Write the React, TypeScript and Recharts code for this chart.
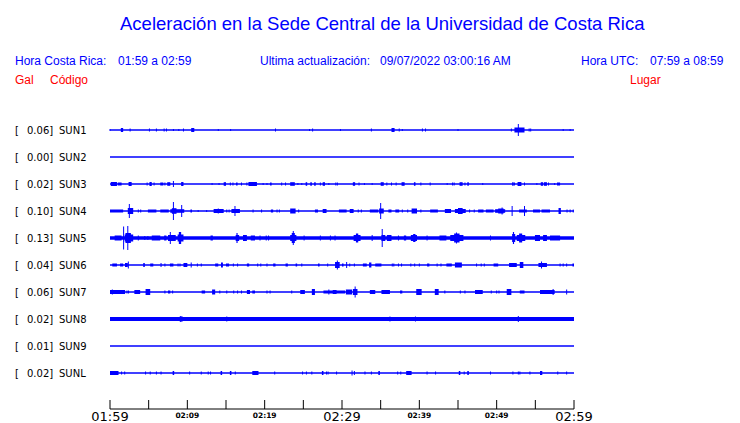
import { ComposedChart, Line, XAxis, YAxis, ReferenceArea } from 'recharts'

// station rows, top to bottom
const CODES = ['SUN1', 'SUN2', 'SUN3', 'SUN4', 'SUN5', 'SUN6', 'SUN7', 'SUN8', 'SUN9', 'SUNL']
const GAL = ['0.06', '0.00', '0.02', '0.10', '0.13', '0.04', '0.06', '0.02', '0.01', '0.02']
const PLACES = ['CIMAR', 'Ingenieria P01', 'Ingenieria P06', 'EBCI', 'Rectoria', 'Agroalimentarias', 'Archivo', 'Electrica P06', 'Electrica P01', 'LANAMME-CTT']
const BASE_WIDTH = [1.3, 1.3, 1.3, 1.3, 3.5, 1.3, 1.3, 4, 1.3, 1.3]

// time axis (minutes after 01:59)
const TICK_MINUTES = [0, 5, 10, 15, 20, 25, 30, 35, 40, 45, 50, 55, 60]
const TICK_LABELS = ['01:59', '', '02:09', '', '02:19', '', '02:29', '', '02:39', '', '02:49', '', '02:59']
const MAJOR_TICKS = ['01:59', '02:29', '02:59']

// bursts per station: [start min, end min, half amplitude]
const SUN1 = [[0, 0, 1], [1.4, 1.7, 2], [2.6, 2.6, 1.5], [5.1, 5.1, 1.5], [6.0, 6.0, 1.5], [7.0, 7.0, 1.5], [7.3, 7.3, 1.5], [8.2, 8.2, 1], [8.9, 8.9, 1], [9.5, 9.5, 1.5], [10.5, 10.9, 2], [14.0, 14.0, 1], [15.6, 15.6, 1], [21.4, 21.4, 1.5], [25.8, 25.8, 1], [26.2, 26.2, 1.5], [29.8, 29.8, 1], [33.8, 33.8, 1.5], [36.4, 36.8, 2], [37.4, 37.4, 1.5], [37.8, 37.8, 1], [40.4, 40.4, 1.5], [40.8, 40.8, 1.5], [45.0, 45.0, 1], [51.9, 51.9, 1.5], [52.3, 53.6, 2.5], [52.8, 52.8, 6], [54.2, 54.2, 1.5], [54.4, 54.4, 1.5], [58.6, 58.6, 1], [59.5, 59.5, 1]]
const SUN2: number[][] = []
const SUN3 = [[0.1, 0.9, 2], [1.0, 1.5, 1.5], [2.4, 2.8, 2], [4.8, 4.8, 1.5], [5.1, 5.4, 2], [5.7, 5.7, 1.5], [6.5, 6.9, 1.5], [7.1, 7.1, 1.5], [7.4, 7.8, 1.8], [8.2, 8.2, 3], [9.2, 9.5, 2], [13.2, 13.2, 1], [14.1, 14.1, 1], [14.7, 15.0, 1.8], [15.56, 15.56, 1.5], [15.9, 15.9, 1.5], [16.3, 16.5, 1.5], [17.0, 17.0, 1.5], [17.7, 17.7, 1.5], [17.9, 19.0, 2], [19.8, 19.8, 1], [20.3, 20.3, 1], [20.7, 20.9, 1.5], [22.2, 22.2, 1.5], [22.7, 22.7, 1.5], [23.3, 23.9, 1.8], [24.3, 24.3, 1], [24.8, 24.8, 1], [25.3, 25.5, 1.8], [25.9, 26.1, 1.8], [26.4, 26.6, 1.8], [27.2, 27.2, 1.5], [27.5, 27.8, 1.8], [28.3, 28.3, 1], [29.2, 29.2, 1.5], [29.4, 29.4, 1.5],
  [31.4, 31.7, 1.8], [32.2, 32.2, 1.5], [32.9, 32.9, 1], [33.9, 33.9, 1], [35.0, 35.4, 1.8], [35.8, 35.8, 1.5], [36.4, 36.4, 1.5], [37.0, 37.0, 1.5], [37.7, 38.1, 1.8], [39.3, 39.5, 1.8], [40.2, 40.2, 1.5], [41.4, 41.4, 1.5], [43.6, 43.6, 1], [44.3, 44.3, 1.5], [44.5, 44.5, 1.5], [45.2, 45.6, 1.8], [45.9, 45.9, 1.5], [46.2, 46.4, 1.8], [48.2, 48.2, 1], [52.0, 52.2, 1.8], [52.3, 52.3, 1.5], [52.7, 53.2, 2], [53.6, 53.6, 1.5], [55.2, 55.2, 1], [55.7, 56.0, 1.8], [56.1, 56.5, 1.8], [56.7, 56.7, 1.5], [57.5, 57.5, 1], [57.8, 58.2, 1.5]]
const SUN4 = [[0, 1.7, 1.5], [2.3, 3.0, 3], [2.5, 2.5, 7], [3.66, 3.66, 1.5], [3.97, 3.97, 1.5], [4.9, 6.0, 1.5], [6.5, 7.6, 1.5], [7.8, 9.6, 1.8], [8.0, 8.6, 2.8], [8.2, 8.2, 9], [9.27, 9.27, 6], [10.4, 10.6, 1.5], [11.4, 11.4, 1], [12.5, 12.5, 1], [13.4, 14.7, 2], [14.0, 14.0, 2.5], [15.1, 15.1, 1.5], [15.4, 15.4, 1.5], [15.7, 16.8, 2], [16.16, 16.16, 5], [18.5, 18.5, 1.5], [19.6, 19.6, 1.5], [20.8, 21.1, 1.5], [21.6, 21.6, 1.5], [21.9, 21.9, 1.5], [23.3, 24.0, 2.5], [24.4, 24.4, 1.5], [26.5, 26.9, 1.5], [27.5, 28.0, 2], [29.6, 30.6, 1.5],
  [31.0, 31.5, 2], [32.1, 32.1, 1.5], [32.5, 32.5, 1.5], [33.6, 34.7, 1.5], [34.8, 35.4, 2.5], [35.0, 35.0, 8], [36.0, 36.4, 1.5], [36.9, 37.4, 1.5], [37.8, 37.8, 1.5], [38.5, 38.5, 1.5], [39.0, 39.7, 2.5], [40.2, 40.2, 1.5], [41.4, 42.4, 1.5], [43.3, 44.1, 2], [44.6, 46.0, 2], [45.0, 45.6, 3], [46.5, 46.5, 1.5], [47.1, 47.1, 1.5], [47.6, 48.3, 1.5], [48.6, 49.6, 1.5], [49.8, 51.1, 1.8], [50.2, 50.9, 2.5], [50.7, 50.7, 3.5], [52.0, 52.0, 5], [52.9, 53.9, 1.5], [53.6, 53.6, 5], [54.7, 55.6, 1.5], [55.8, 56.9, 1.5], [58.0, 58.3, 3], [59.1, 59.1, 1.5], [59.5, 59.5, 1.5], [59.9, 59.9, 1.5]]
const SUN5 = [[0.6, 1.5, 2.5], [1.76, 1.76, 11.5], [1.9, 3.0, 3.5], [2.0, 2.7, 5], [2.3, 2.3, 12], [3.66, 3.66, 2.5], [4.5, 4.5, 2], [4.9, 4.9, 2], [5.4, 6.5, 2.5], [7.0, 7.3, 2.5], [7.5, 8.5, 3], [7.8, 7.8, 6], [8.75, 9.5, 3.5], [8.9, 9.2, 6], [13.0, 13.3, 2.5], [16.25, 16.7, 3], [16.35, 16.5, 5], [17.2, 17.7, 3], [18.2, 18.75, 2.5], [19.4, 19.4, 2.5], [20.2, 20.2, 2.5], [20.5, 20.5, 2.5], [23.3, 24.1, 3], [23.5, 23.9, 5], [23.7, 23.7, 7], [25.1, 25.1, 2.5], [27.2, 27.2, 2.5], [28.5, 28.5, 2.5], [29.1, 29.1, 2.5],
  [31.5, 32.4, 3], [31.8, 32.1, 4.5], [33.9, 33.9, 3], [35.1, 35.6, 3], [35.2, 35.2, 9], [35.8, 36.4, 3], [37.3, 37.3, 2.5], [38.0, 38.3, 2.5], [38.9, 39.7, 3], [39.2, 39.5, 4], [41.0, 41.0, 2.5], [42.6, 43.5, 2.5], [44.0, 45.7, 3], [44.5, 45.2, 4.5], [44.8, 44.8, 5.5], [49.2, 49.2, 2.5], [52.0, 52.4, 4], [52.1, 52.25, 6], [52.6, 53.7, 3], [52.9, 53.3, 4.5], [54.95, 55.6, 3], [56.0, 56.5, 3], [56.9, 58.2, 2.5]]
const SUN6 = [[0.3, 0.9, 1.5], [1.3, 1.7, 1.5], [1.94, 2.3, 2], [2.37, 2.37, 3.5], [4.3, 4.5, 2], [5.2, 5.6, 1.5], [6.6, 6.6, 2], [7.1, 7.1, 1.5], [7.75, 8.2, 1.5], [8.8, 8.8, 1.5], [9.05, 9.05, 1.5], [9.5, 10.0, 2], [10.5, 10.5, 2.5], [11.3, 11.3, 1.5], [11.8, 11.8, 1.5], [13.6, 14.0, 1.5], [14.35, 14.6, 2.5], [15.0, 15.4, 1.5], [15.95, 15.95, 1.5], [16.5, 16.5, 1.5], [17.7, 18.0, 1.5], [19.1, 19.1, 1.5], [19.5, 19.5, 1.5], [20.3, 20.3, 1.5], [21.1, 21.4, 1.5], [22.7, 23.0, 1.5], [24.0, 24.2, 1.5], [24.8, 24.8, 1.5], [26.9, 27.1, 1.5], [28.15, 28.15, 1.5], [29.1, 29.7, 3], [29.4, 29.4, 4.5], [30.0, 30.2, 1.5],
  [30.6, 30.6, 3], [31.0, 31.0, 1.5], [31.6, 31.6, 1.5], [32.7, 33.2, 1.5], [33.5, 33.8, 2.5], [34.3, 35.1, 1.5], [36.5, 36.5, 1.5], [36.7, 36.7, 1.5], [37.3, 37.3, 1.5], [37.7, 37.7, 1.5], [38.9, 38.9, 1.5], [39.4, 39.4, 1.5], [40.0, 40.0, 1.5], [41.0, 41.3, 1.5], [42.3, 42.3, 1.5], [42.8, 42.8, 1.5], [43.5, 44.2, 1.5], [44.6, 45.5, 2.5], [47.4, 47.4, 1.5], [48.0, 48.0, 1.5], [48.4, 48.4, 1.5], [49.6, 50.2, 1.5], [51.6, 52.6, 2], [52.99, 53.45, 3], [55.4, 56.5, 2], [55.8, 55.8, 3.5], [58.2, 58.2, 1.5], [58.6, 58.6, 1.5], [59.05, 59.05, 1.5], [59.8, 60, 1.5]]
const SUN7 = [[0, 1.95, 2], [0.3, 0.3, 2.5], [2.2, 2.2, 1.5], [2.4, 2.4, 1.5], [3.15, 3.9, 2], [4.6, 5.2, 3], [7.1, 7.1, 1.5], [7.5, 7.8, 1.5], [8.1, 8.1, 1.5], [11.85, 12.3, 1.5], [13.2, 13.6, 2.5], [14.2, 14.2, 1.5], [15.1, 15.1, 1.5], [16.0, 16.0, 1.5], [16.5, 16.5, 1.5], [17.0, 17.0, 1.5], [17.7, 18.1, 2], [18.4, 18.75, 1.5], [20.3, 20.3, 1.5], [20.7, 20.7, 1.5], [23.5, 23.5, 1.5], [24.6, 25.2, 2], [26.1, 26.5, 3], [27.6, 30.4, 1.5], [28.3, 28.3, 2.5], [28.8, 29.3, 2],
  [30.5, 31.3, 2.5], [31.7, 31.7, 5.5], [31.4, 32.0, 3], [33.6, 34.3, 2], [35.1, 36.2, 2], [37.5, 37.8, 1.5], [39.6, 40.3, 3], [42.0, 42.5, 3], [43.3, 43.3, 1.5], [45.3, 45.3, 1.5], [45.9, 45.9, 1.5], [47.2, 48.2, 2], [49.3, 49.3, 1.5], [50.0, 50.0, 1.5], [50.3, 50.3, 1.5], [51.3, 51.9, 3], [52.99, 53.6, 1.5], [55.6, 57.5, 2], [57.3, 57.3, 3], [59.05, 59.05, 2.5]]
const SUN8 = [[9.0, 9.4, 2.5], [9.15, 9.15, 3], [15.1, 15.1, 2.5], [36.2, 36.2, 2.5], [39.5, 39.5, 2.5], [52.8, 52.8, 3]]
const SUN9: number[][] = []
const SUNL = [[0, 1.1, 2], [1.5, 1.5, 1.5], [1.9, 1.9, 1.5], [4.6, 4.6, 1.5], [5.2, 5.2, 1.5], [6.0, 6.0, 1.5], [6.6, 6.6, 1.5], [8.1, 8.3, 2], [10.3, 10.3, 1.5], [11.8, 11.8, 1.5], [12.7, 12.7, 1.5], [13.0, 13.0, 1.5], [14.3, 14.5, 2], [15.5, 15.7, 2], [16.2, 16.2, 1.5], [18.4, 19.2, 2], [21.3, 21.3, 1.5], [24.9, 24.9, 1.5], [25.4, 25.4, 1.5], [26.1, 26.1, 1.5], [27.4, 27.6, 2], [28.0, 28.0, 1.5], [28.2, 28.2, 1.5], [29.3, 29.3, 1.5],
  [31.3, 31.3, 2.5], [31.6, 31.6, 2], [32.97, 32.97, 1.5], [33.8, 33.8, 1.5], [34.7, 34.9, 2], [37.2, 37.2, 1.5], [37.6, 37.6, 1.5], [38.3, 39.0, 2], [41.0, 41.0, 1.5], [42.1, 42.1, 1.5], [45.1, 45.3, 2], [45.8, 45.8, 1.5], [46.2, 46.4, 2], [49.2, 49.2, 1.5], [52.1, 52.1, 1.5], [52.8, 52.8, 1.5], [53.0, 53.0, 1.5], [54.3, 54.3, 1.5], [55.6, 55.9, 2], [57.9, 57.9, 1.5], [59.05, 59.05, 1.5]]

const TRACES = [SUN1, SUN2, SUN3, SUN4, SUN5, SUN6, SUN7, SUN8, SUN9, SUNL]

const BLUE = '#0000ff'
const RED = '#ff0000'
const ROW = 27
const bases = CODES.map((_, i) => (i + 1) * ROW)

// baseline endpoints
const lineData = [0, 60].map(t => {
  const row: Record<string, number> = { t }
  bases.forEach((b, i) => { row['s' + i] = b })
  return row
})

const LeftTick = ({ y, index }: any) => (
  <g fontFamily="DejaVu Sans" fontSize={10} fill="#000">
    <text x={15} y={y + 4}>[</text>
    <text x={27} y={y + 4}>{GAL[index]}]</text>
    <text x={59} y={y + 4}>{CODES[index]}</text>
  </g>
)

const RightTick = ({ y, index }: any) => (
  <text x={587} y={y + 4} fontFamily="DejaVu Sans" fontSize={10} fill="#000">{PLACES[index]}</text>
)

const TimeTick = ({ x, y, index }: any) => {
  const label = TICK_LABELS[index]
  const major = MAJOR_TICKS.includes(label)
  return (
    <g>
      <line x1={x} x2={x} y1={y - 9} y2={y} stroke="#000" strokeWidth={1} />
      {label && (
        <text x={x} y={y + (major ? 12 : 9)} textAnchor="middle" fontFamily="DejaVu Sans"
          fontSize={major ? 13 : 7.5} fontWeight={major ? 'normal' : 'bold'} fill="#000">{label}</text>
      )}
    </g>
  )
}

export default function App() {
  return (
    <div style={{ position: 'absolute', left: 0, top: 0, width: 740, height: 423, background: '#fff' }}>
      <ComposedChart width={740} height={423} data={lineData} margin={{ top: 103, right: 0, bottom: 0, left: 0 }}>
        <XAxis dataKey="t" type="number" domain={[0, 60]} ticks={TICK_MINUTES} interval={0}
          axisLine={{ stroke: '#000', strokeWidth: 1 }} tickLine={false} tickSize={0} tickMargin={0}
          height={14} tick={<TimeTick />} />
        <YAxis yAxisId="l" type="number" domain={[0, 306]} reversed ticks={bases} interval={0}
          width={110} axisLine={false} tickLine={false} tick={<LeftTick />} />
        <YAxis yAxisId="r" orientation="right" type="number" domain={[0, 306]} reversed ticks={bases} interval={0}
          width={166} axisLine={false} tickLine={false} tick={<RightTick />} />
        {bases.map((b, i) => (
          <Line key={'s' + i} yAxisId="l" dataKey={'s' + i} stroke={BLUE} strokeWidth={BASE_WIDTH[i]}
            dot={false} isAnimationActive={false} />
        ))}
        {TRACES.map((events, i) => events.map(([t0, t1, a], j) => (
          <ReferenceArea key={i + '-' + j} yAxisId="l"
            x1={t1 > t0 ? t0 : t0 - 0.065} x2={t1 > t0 ? t1 : t0 + 0.065}
            y1={bases[i] - a} y2={bases[i] + a}
            fill={BLUE} fillOpacity={1} stroke="none" ifOverflow="visible" />
        )))}
      </ComposedChart>
      <svg width={740} height={423} style={{ position: 'absolute', left: 0, top: 0, pointerEvents: 'none' }}>
        <g fontFamily="Liberation Sans">
          <text x={120} y={30} fontSize={18.5} fill={BLUE}>Aceleración en la Sede Central de la Universidad de Costa Rica</text>
          <g fontSize={12} fill={BLUE}>
            <text x={15} y={65}>Hora Costa Rica:</text>
            <text x={118} y={65}>01:59 a 02:59</text>
            <text x={260} y={65}>Ultima actualización:</text>
            <text x={380} y={65}>09/07/2022 03:00:16 AM</text>
            <text x={581} y={65}>Hora UTC:</text>
            <text x={650} y={65}>07:59 a 08:59</text>
          </g>
          <g fontSize={12} fill={RED}>
            <text x={15} y={84}>Gal</text>
            <text x={50} y={84}>Código</text>
            <text x={630} y={84}>Lugar</text>
          </g>
        </g>
      </svg>
    </div>
  )
}
